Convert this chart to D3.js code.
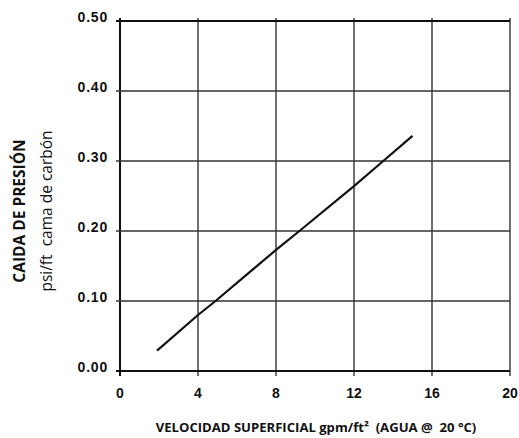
<!DOCTYPE html>
<html>
<head>
<meta charset="utf-8">
<script src="https://cdn.jsdelivr.net/npm/d3@7"></script>
<style>
  body { margin: 0; background: #fff; }
  .tick-label { font-family: "Liberation Sans", Arial, sans-serif; font-weight: bold; font-size: 14px; fill: #111; }
  .axis-title { font-family: "Open Sans", sans-serif; fill: #111; white-space: pre; }
</style>
</head>
<body>
<div class="chart"></div>
<script>
// Chart data
var xTicks = [0, 4, 8, 12, 16, 20];
var yTicks = [0, 0.1, 0.2, 0.3, 0.4, 0.5];
var yTickLabels = ["0.00", "0.10", "0.20", "0.30", "0.40", "0.50"];
var velocity = [1.9, 4, 4.9, 8, 9.2, 12, 13.5, 15];
var pressureDrop = [0.029, 0.08, 0.10, 0.173, 0.20, 0.264, 0.30, 0.336];

var svgWidth = 519;
var svgHeight = 438;
var margin = { top: 21, right: 9, bottom: 67, left: 120 };
var width = svgWidth - margin.left - margin.right;
var height = svgHeight - margin.top - margin.bottom;

var svg = d3.select(".chart")
  .append("svg")
  .attr("width", svgWidth)
  .attr("height", svgHeight);

var chart = svg.append("g")
  .attr("transform", "translate(" + margin.left + "," + margin.top + ")");

var x = d3.scaleLinear().domain([0, 20]).range([0, width]);
var y = d3.scaleLinear().domain([0, 0.5]).range([height, 0]);

// grid lines
chart.selectAll(".vgrid")
  .data(xTicks)
  .enter()
  .append("line")
  .attr("x1", function(d) { return x(d); })
  .attr("x2", function(d) { return x(d); })
  .attr("y1", -3)
  .attr("y2", height + 5)
  .attr("stroke", function(d, i) { return (i === 0) ? "#111" : "#333"; })
  .attr("stroke-width", function(d, i) { return (i === 0) ? 2 : 1.4; });

chart.selectAll(".hgrid")
  .data(yTicks)
  .enter()
  .append("line")
  .attr("x1", -4)
  .attr("x2", width)
  .attr("y1", function(d) { return y(d); })
  .attr("y2", function(d) { return y(d); })
  .attr("stroke", function(d, i) { return (i === 0 || i === yTicks.length - 1) ? "#111" : "#333"; })
  .attr("stroke-width", function(d, i) { return (i === 0 || i === yTicks.length - 1) ? 2 : 1.4; });

// tick labels
chart.selectAll(".ylab")
  .data(yTicks)
  .enter()
  .append("text")
  .attr("class", "tick-label")
  .attr("x", -12)
  .attr("y", function(d) { return y(d) + 1; })
  .attr("text-anchor", "end")
  .attr("letter-spacing", "0.8px")
  .text(function(d, i) { return yTickLabels[i]; });

chart.selectAll(".xlab")
  .data(xTicks)
  .enter()
  .append("text")
  .attr("class", "tick-label")
  .attr("x", function(d) { return x(d); })
  .attr("y", height + 27)
  .attr("text-anchor", "middle")
  .text(function(d) { return d; });

// curve
var line = d3.line()
  .x(function(d) { return x(d[0]); })
  .y(function(d) { return y(d[1]); });

chart.append("path")
  .datum(d3.zip(velocity, pressureDrop))
  .attr("d", line)
  .attr("fill", "none")
  .attr("stroke", "#111")
  .attr("stroke-width", 2.2);

// axis titles
svg.append("text")
  .attr("class", "axis-title")
  .attr("x", 316)
  .attr("y", 432)
  .attr("text-anchor", "middle")
  .attr("font-weight", "bold")
  .attr("font-size", "13.1px")
  .text("VELOCIDAD SUPERFICIAL gpm/ft\u00B2  (AGUA @  20 \u00B0C)");

svg.append("text")
  .attr("class", "axis-title")
  .attr("transform", "translate(25,211) rotate(-90)")
  .attr("text-anchor", "middle")
  .attr("font-weight", "bold")
  .attr("font-size", "15.5px")
  .text("CAIDA DE PRESIÓN");

svg.append("text")
  .attr("class", "axis-title")
  .attr("transform", "translate(52,211) rotate(-90)")
  .attr("text-anchor", "middle")
  .attr("font-size", "15.5px")
  .text("psi/ft  cama de carbón");
</script>
</body>
</html>
